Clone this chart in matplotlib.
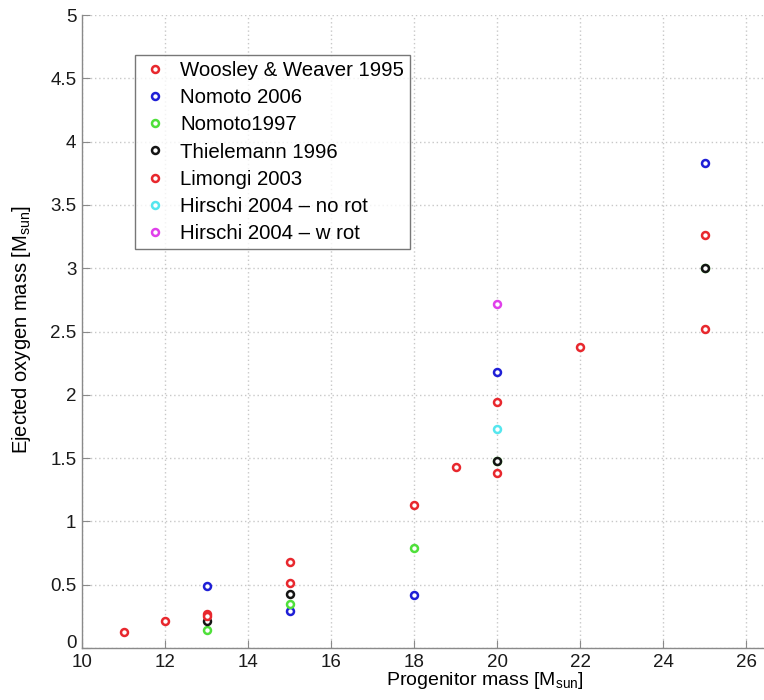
import matplotlib
matplotlib.use("Agg")
import matplotlib.pyplot as plt
import matplotlib.transforms as mtransforms

plt.rcParams['font.family'] = ['Liberation Sans', 'DejaVu Sans']
plt.rcParams['mathtext.fontset'] = 'custom'
plt.rcParams['mathtext.rm'] = 'Liberation Sans'

# Ejected oxygen mass versus progenitor mass, per nucleosynthesis model
ww95_mass = [11, 12, 13, 15, 18, 19, 20, 22, 25]
ww95_oxygen = [0.13, 0.21, 0.27, 0.68, 1.13, 1.43, 1.94, 2.38, 3.26]

nomoto06_mass = [13, 15, 18, 20, 25]
nomoto06_oxygen = [0.49, 0.29, 0.42, 2.18, 3.83]

nomoto97_mass = [13, 15, 18, 20, 25]
nomoto97_oxygen = [0.145, 0.35, 0.79, 1.48, 3.0]

thielemann_mass = [13, 15, 20, 25]
thielemann_oxygen = [0.21, 0.43, 1.48, 3.0]

limongi_mass = [13, 15, 20, 25]
limongi_oxygen = [0.25, 0.51, 1.38, 2.52]

hirschi_norot_mass = [20]
hirschi_norot_oxygen = [1.73]

hirschi_rot_mass = [20]
hirschi_rot_oxygen = [2.72]

series = [
    ("Woosley & Weaver 1995", ww95_mass, ww95_oxygen, "#e8282e"),
    ("Nomoto 2006", nomoto06_mass, nomoto06_oxygen, "#1f1fd6"),
    ("Nomoto1997", nomoto97_mass, nomoto97_oxygen, "#4fe03a"),
    ("Thielemann 1996", thielemann_mass, thielemann_oxygen, "#151515"),
    ("Limongi 2003", limongi_mass, limongi_oxygen, "#e8282e"),
    ("Hirschi 2004 \u2013 no rot", hirschi_norot_mass, hirschi_norot_oxygen, "#55e6ee"),
    ("Hirschi 2004 \u2013 w rot", hirschi_rot_mass, hirschi_rot_oxygen, "#e040ea"),
]

fig = plt.figure(figsize=(7.64, 7.00), dpi=100)
ax = fig.add_axes([82 / 764, 52 / 700, (764 - 82) / 764, (648 - 15) / 700])

for label, xs, ys, color in series:
    ax.plot(xs, ys, linestyle='none', marker='o', markersize=5,
            markerfacecolor='white', markeredgecolor=color,
            markeredgewidth=1.8, label=label)

ax.set_xlim(10, 26.43)
ax.set_ylim(0, 5)
ax.set_xticks(range(10, 27, 2))
ax.set_yticks([0, 0.5, 1, 1.5, 2, 2.5, 3, 3.5, 4, 4.5, 5])
ax.set_yticklabels(["0", "0.5", "1", "1.5", "2", "2.5", "3", "3.5", "4", "4.5", "5"])

ax.grid(True, linestyle=(0, (1, 2)), color='#c8c8c8', linewidth=1.0)
ax.set_axisbelow(True)

for side in ('top', 'right'):
    ax.spines[side].set_visible(False)
for side in ('left', 'bottom'):
    ax.spines[side].set_color('#8a8a8a')
    ax.spines[side].set_linewidth(1.0)

ax.tick_params(direction='in', length=6, color='#8a8a8a', labelsize=13.5,
               labelcolor='#1a1a1a')
ax.tick_params(axis='x', pad=4)
ax.tick_params(axis='y', pad=4)

# lift the "0" on the y axis a little so it clears the "10" below it
zero_label = ax.get_yticklabels()[0]
zero_label.set_transform(zero_label.get_transform() +
                         mtransforms.ScaledTranslation(0, 6 / 100, fig.dpi_scale_trans))

ax.set_xlabel(r"Progenitor mass [M$_{\mathrm{sun}}$]", fontsize=14)
ax.xaxis.set_label_coords((485 - 82) / 682, (648 - 670) / 633)
ax.xaxis.label.set_va('top')
ax.set_ylabel(r"Ejected oxygen mass [M$_{\mathrm{sun}}$]", fontsize=14.5)
ax.yaxis.set_label_coords((22 - 82) / 682, (648 - 330) / 633)
ax.yaxis.label.set_va('center')

leg = ax.legend(loc='upper left', bbox_to_anchor=((135 - 82) / 682, 1 - (55 - 15) / 633),
                fontsize=14.7, frameon=True, fancybox=False, handlelength=1.4,
                handletextpad=0.5, borderpad=0.3, labelspacing=0.4,
                borderaxespad=0)
leg.get_frame().set_edgecolor('#555555')
leg.get_frame().set_linewidth(1.0)

fig.savefig("out.png", dpi=100)
